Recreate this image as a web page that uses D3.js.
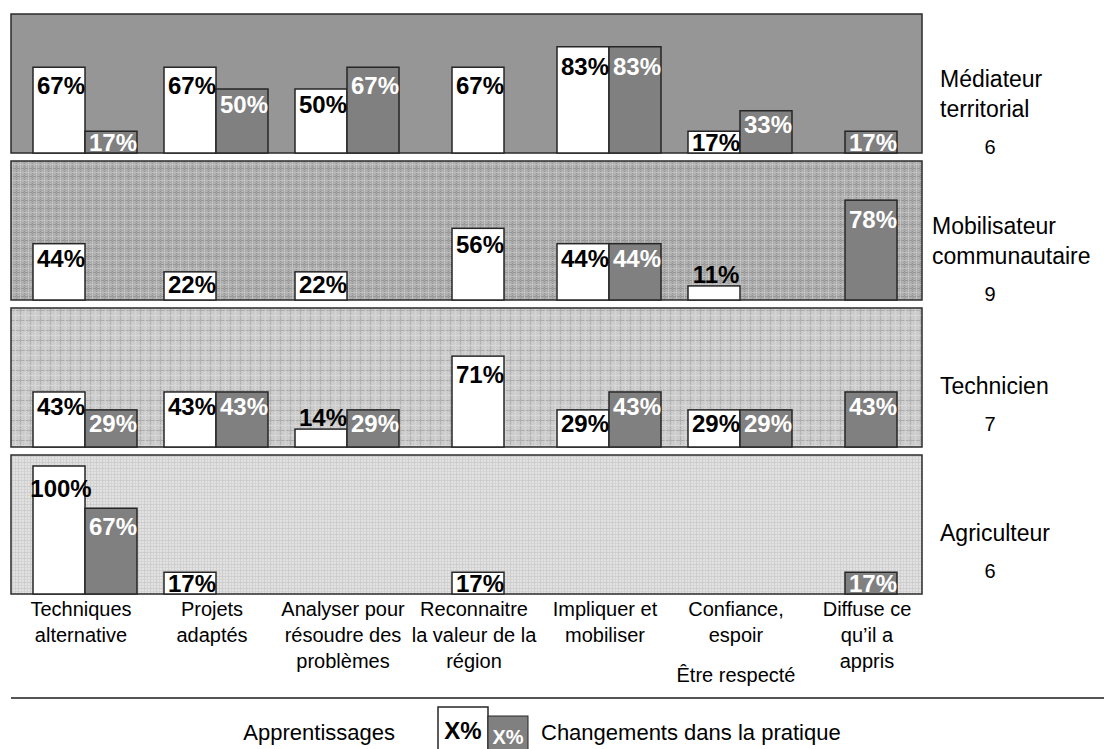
<!DOCTYPE html>
<html>
<head>
<meta charset="utf-8">
<script src="https://cdn.jsdelivr.net/npm/d3@7"></script>
<style>
  body { margin: 0; background: #fff; }
  svg text { font-family: "Liberation Sans", Arial, sans-serif; }
</style>
</head>
<body>
<div id="chart"></div>
<script>
var w = 1104;
var h = 749;

// data
var series = ["Apprentissages", "Changements dans la pratique"];
var categories = ["Techniques alternative", "Projets adaptés", "Analyser pour résoudre des problèmes",
  "Reconnaitre la valeur de la région", "Impliquer et mobiliser", "Confiance, espoir Être respecté",
  "Diffuse ce qu’il a appris"];
var categoryLines = [
  ["Techniques", "alternative"],
  ["Projets", "adaptés"],
  ["Analyser pour", "résoudre des", "problèmes"],
  ["Reconnaitre", "la valeur de la", "région"],
  ["Impliquer et", "mobiliser"],
  ["Confiance,", "espoir", "Être respecté"],
  ["Diffuse ce", "qu’il a", "appris"]
];
var profiles = [["Médiateur", "territorial"], ["Mobilisateur", "communautaire"], ["Technicien"], ["Agriculteur"]];
var counts = [6, 9, 7, 6];
var apprentissages = [
  [67, 67, 50, 67, 83, 17, null],
  [44, 22, 22, 56, 44, 11, null],
  [43, 43, 14, 71, 29, 29, null],
  [100, 17, null, 17, null, null, null]
];
var changements = [
  [17, 50, 67, null, 83, 33, 17],
  [null, null, null, null, 44, null, 78],
  [29, 43, 29, null, 43, 29, 43],
  [67, null, null, null, null, null, 17]
];

var panelLeft = 11, panelRight = 922;
var panelTop0 = 14, panelStep = 147, panelH = 139;
var barW = 52;

var svg = d3.select("#chart")
  .append("svg")
  .attr("width", w)
  .attr("height", h)

// background textures of the four panels
var defs = svg.append("defs");

function plaid(id, size, base, lines) {
  var p = defs.append("pattern")
    .attr("id", id)
    .attr("patternUnits", "userSpaceOnUse")
    .attr("width", size)
    .attr("height", size)
  p.append("rect").attr("width", size).attr("height", size).attr("fill", base)
  lines.forEach(function(l) {
    p.append("rect").attr("x", l[0]).attr("y", 0).attr("width", l[1]).attr("height", size).attr("fill", l[2]).attr("opacity", 0.7)
    p.append("rect").attr("x", 0).attr("y", l[0]).attr("width", size).attr("height", l[1]).attr("fill", l[2]).attr("opacity", 0.7)
  })
  // speckle
  for (var i = 0; i < size; i += 2) {
    for (var j = (i / 2) % 2; j < size; j += 2) {
      p.append("rect").attr("x", i).attr("y", j).attr("width", 1).attr("height", 1).attr("fill", "#fff").attr("opacity", 0.18)
    }
  }
}
plaid("pat2", 8, "#ababab", [[0, 1, "#8e8e8e"], [4, 1, "#c4c4c4"]]);
plaid("pat3", 10, "#c9c9c9", [[0, 1, "#9e9e9e"], [5, 1, "#dadada"]]);
plaid("pat4", 6, "#e0e0e0", [[0, 1, "#c2c2c2"], [3, 1, "#cfcfcf"]]);
var panelFills = ["#969696", "url(#pat2)", "url(#pat3)", "url(#pat4)"];

var x0 = d3.scalePoint()
  .domain(categories)
  .range([panelLeft + 74, panelRight - 51])

var x1 = d3.scaleBand()
  .domain(series)
  .range([-barW, barW])

var heightScale = d3.scaleLinear()
  .domain([0, 100])
  .range([0, 128])

// which series appear at all for a category
var hasA = categories.map(function(c, ci) { return apprentissages.some(function(r) { return r[ci] != null; }); });
var hasC = categories.map(function(c, ci) { return changements.some(function(r) { return r[ci] != null; }); });

function barX(ci, s) {
  if (hasA[ci] && hasC[ci]) return x0(categories[ci]) + x1(series[s]);
  return x0(categories[ci]) - barW / 2;
}

profiles.forEach(function(name, pi) {
  var top = panelTop0 + pi * panelStep;
  var bottom = top + panelH;
  var g = svg.append("g").attr("class", "panel" + pi);

  g.append("rect")
    .attr("x", panelLeft)
    .attr("y", top)
    .attr("width", panelRight - panelLeft)
    .attr("height", panelH)
    .attr("fill", panelFills[pi])
    .attr("stroke", "#2b2b2b")
    .attr("stroke-width", 1.5)

  var bars = [];
  categories.forEach(function(c, ci) {
    [apprentissages[pi][ci], changements[pi][ci]].forEach(function(v, s) {
      if (v != null) bars.push({ ci: ci, s: s, v: v });
    })
  })

  g.selectAll("rect.bar")
    .data(bars)
    .enter()
    .append("rect")
    .attr("class", "bar")
    .attr("x", function(d) { return barX(d.ci, d.s); })
    .attr("y", function(d) { return bottom - heightScale(d.v); })
    .attr("width", barW)
    .attr("height", function(d) { return heightScale(d.v); })
    .attr("fill", function(d) { return d.s === 0 ? "#fff" : "#808080"; })
    .attr("stroke", "#262626")
    .attr("stroke-width", 1.5)

  g.selectAll("text.val")
    .data(bars)
    .enter()
    .append("text")
    .attr("class", "val")
    .attr("x", function(d) { return barX(d.ci, d.s) + barW / 2 + 2; })
    .attr("y", function(d) {
      var bh = heightScale(d.v);
      return bh >= 20 ? bottom - bh + 18 + 0.1 * bh : bottom - bh - 3;
    })
    .attr("text-anchor", "middle")
    .attr("font-size", 24)
    .attr("font-weight", "bold")
    .attr("fill", function(d) { return d.s === 0 ? "#000" : "#fff"; })
    .text(function(d) { return d.v + "%"; })

  // profile name and count on the right
  var mid = top + panelH / 2;
  var first = name.length > 1 ? mid + 3 : mid + 16;
  var lx = pi === 1 ? 932 : 940;
  var label = g.append("text")
    .attr("x", lx)
    .attr("font-size", 23)
    .attr("fill", "#000")
  name.forEach(function(line, li) {
    label.append("tspan")
      .attr("x", lx)
      .attr("y", first + li * 30)
      .text(line)
  })
  g.append("text")
    .attr("x", 990)
    .attr("y", first + (name.length - 1) * 30 + 37)
    .attr("text-anchor", "middle")
    .attr("font-size", 20)
    .text(counts[pi])
});

// category labels under the last panel
var catLabels = svg.selectAll("text.cat")
  .data(categories)
  .enter()
  .append("text")
  .attr("class", "cat")
  .attr("text-anchor", "middle")
  .attr("font-size", 20)
  .attr("fill", "#000")

catLabels.each(function(c, ci) {
  var t = d3.select(this);
  categoryLines[ci].forEach(function(line, li) {
    t.append("tspan")
      .attr("x", x0(c) - 4)
      .attr("y", 616 + li * 26 + (ci === 5 && li === 2 ? 14 : 0))
      .text(line)
  })
})

svg.append("line")
  .attr("x1", panelLeft)
  .attr("x2", w)
  .attr("y1", 698)
  .attr("y2", 698)
  .attr("stroke", "#555")
  .attr("stroke-width", 2)

// legend
var legend = svg.append("g").attr("class", "legend");
legend.append("text")
  .attr("x", 395)
  .attr("y", 740)
  .attr("text-anchor", "end")
  .attr("font-size", 22)
  .text(series[0])

legend.append("rect")
  .attr("x", 438).attr("y", 707).attr("width", 50).attr("height", 60)
  .attr("fill", "#fff").attr("stroke", "#262626").attr("stroke-width", 1.5)
legend.append("rect")
  .attr("x", 488).attr("y", 716).attr("width", 40).attr("height", 60)
  .attr("fill", "#808080").attr("stroke", "#262626").attr("stroke-width", 1)
legend.append("text")
  .attr("x", 463).attr("y", 739)
  .attr("text-anchor", "middle")
  .attr("font-size", 24).attr("font-weight", "bold")
  .text("X%")
legend.append("text")
  .attr("x", 508).attr("y", 744)
  .attr("text-anchor", "middle")
  .attr("font-size", 20).attr("font-weight", "bold").attr("fill", "#fff")
  .text("X%")
legend.append("text")
  .attr("x", 541)
  .attr("y", 740)
  .attr("font-size", 22)
  .text(series[1])
</script>
</body>
</html>
